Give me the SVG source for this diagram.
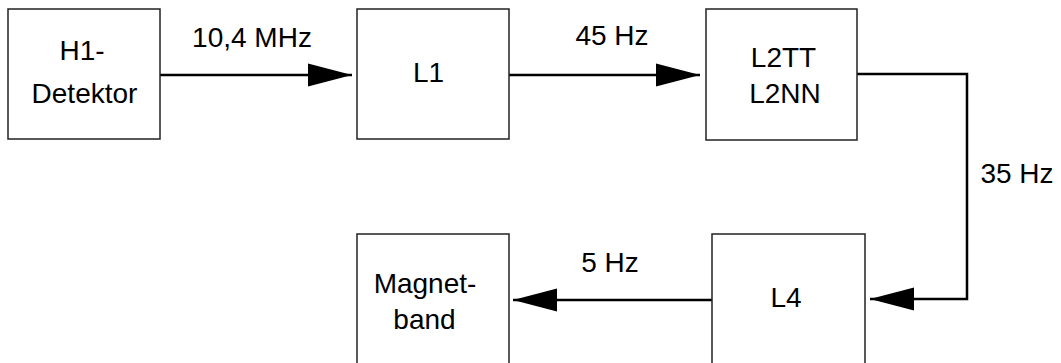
<svg xmlns="http://www.w3.org/2000/svg" width="1061" height="363" viewBox="0 0 1061 363">
<style>
.box{fill:#fff;stroke:#222;stroke-width:1.5}
.wire{fill:none;stroke:#000;stroke-width:2.5}
text{font-family:"Liberation Sans",Arial,sans-serif;font-size:28px;fill:#000;text-anchor:middle}
</style>
<defs>
<marker id="ah" markerUnits="userSpaceOnUse" markerWidth="44" markerHeight="24" refX="44" refY="12" orient="auto">
<path d="M0,0.5 L44,12 L0,23.5 z" fill="#000"/>
</marker>
</defs>
<rect width="1061" height="363" fill="#fff"/>
<g id="connectors">
<path class="wire" d="M160,75 H352" marker-end="url(#ah)"/>
<path class="wire" d="M509,75 H700" marker-end="url(#ah)"/>
<path class="wire" d="M857,74 H967 V299 H870" marker-end="url(#ah)"/>
<path class="wire" d="M712,300 H513" marker-end="url(#ah)"/>
<text x="252" y="47">10,4 MHz</text>
<text x="612" y="45">45 Hz</text>
<text x="1017" y="183">35 Hz</text>
<text x="610" y="272">5 Hz</text>
</g>
<g id="h1">
<rect class="box" x="8" y="9" width="152" height="130"/>
<text x="82" y="60">H1-</text>
<text x="84.5" y="103">Detektor</text>
</g>
<g id="l1">
<rect class="box" x="357" y="9" width="152" height="130"/>
<text x="428.5" y="82">L1</text>
</g>
<g id="l2">
<rect class="box" x="706" y="9" width="151" height="131"/>
<text x="783.5" y="67">L2TT</text>
<text x="785" y="103">L2NN</text>
</g>
<g id="l4">
<rect class="box" x="712" y="234" width="153" height="131"/>
<text x="786" y="307">L4</text>
</g>
<g id="magnetband">
<rect class="box" x="357" y="234" width="152" height="131"/>
<text x="425" y="293">Magnet-</text>
<text x="424.5" y="329">band</text>
</g>
</svg>
